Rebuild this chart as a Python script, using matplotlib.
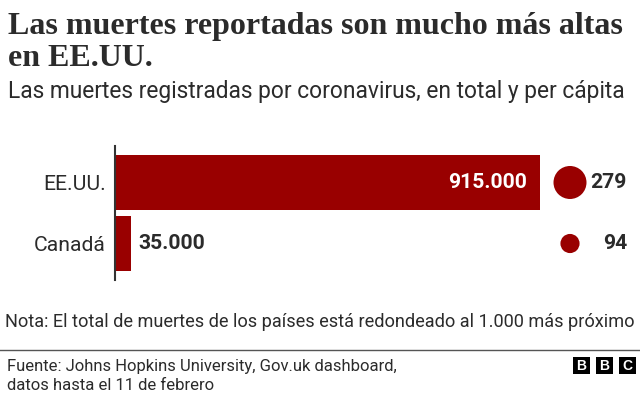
import matplotlib
matplotlib.use("Agg")
import matplotlib.pyplot as plt
from matplotlib.patches import Rectangle
from matplotlib.transforms import blended_transform_factory

categories = ["EE.UU.", "Canadá"]
totals = [915000, 35000]
total_labels = ["915.000", "35.000"]
per_capita = [279, 94]

title_lines = ["Las muertes reportadas son mucho más altas", "en EE.UU."]
subtitle = "Las muertes registradas por coronavirus, en total y per cápita"
note = "Nota: El total de muertes de los países está redondeado al 1.000 más próximo"
source_lines = ["Fuente: Johns Hopkins University, Gov.uk dashboard,", "datos hasta el 11 de febrero"]

W, H = 640, 401
RED = "#990000"
INK = "#2b2b2b"
SANS = "Roboto"

fig = plt.figure(figsize=(W / 100, H / 100), dpi=100, facecolor="white")

def px(x, y):
    return x / W, 1 - y / H

ax = fig.add_axes([115 / W, 1 - 280 / H, (640 - 115) / W, (280 - 146) / H])
ax.set_xlim(0, 915000 * 525 / 425)
ax.set_ylim(1.598, -0.598)
ax.barh(range(len(categories)), totals, height=0.90, color=RED, linewidth=0)
ax.set_yticks(range(len(categories)), categories, fontsize=15.2, color=INK, family=SANS)
ax.tick_params(axis="y", length=0, pad=6.5)
ax.set_xticks([])
for s in ["top", "right", "bottom"]:
    ax.spines[s].set_visible(False)
ax.spines["left"].set_color("#333333")
ax.spines["left"].set_linewidth(1.5)

ax.text(totals[0] - 28000, 0, total_labels[0], color="white", fontsize=15.2,
        fontweight="bold", family=SANS, ha="right", va="center")
ax.text(totals[1] + 15000, 1, total_labels[1], color=INK, fontsize=15.2,
        fontweight="bold", family=SANS, ha="left", va="center")

col = blended_transform_factory(ax.transAxes, ax.transData)
cx = (570 - 115) / 525
lx = (627 - 115) / 525
base = (33 * 0.72) ** 2 / 279
ax.scatter([cx] * 2, range(2), s=[v * base for v in per_capita], color=RED,
           linewidth=0, transform=col, clip_on=False, zorder=3)
for i, v in enumerate(per_capita):
    ax.text(lx, i, str(v), transform=col, color=INK, fontsize=15.2, fontweight="bold",
            family=SANS, ha="right", va="center")

fig.text(*px(8, 34), title_lines[0], fontsize=23, fontweight="bold", family="Liberation Serif",
         color=INK, ha="left", va="baseline")
fig.text(*px(8, 66), title_lines[1], fontsize=23, fontweight="bold", family="Liberation Serif",
         color=INK, ha="left", va="baseline")
fig.text(*px(8, 98), subtitle, fontsize=16.4, family=SANS, color=INK, ha="left", va="baseline")
fig.text(*px(5, 327), note, fontsize=13.1, family=SANS, color=INK, ha="left", va="baseline")
fig.add_artist(plt.Line2D([0, 1], [1 - 349.5 / H] * 2, color="#555555", lw=1, transform=fig.transFigure))
fig.text(*px(7, 371), source_lines[0], fontsize=11.95, family=SANS, color=INK, ha="left", va="baseline")
fig.text(*px(7, 390), source_lines[1], fontsize=11.95, family=SANS, color=INK, ha="left", va="baseline")

for x0, letter in zip([573, 596, 619], "BBC"):
    fig.add_artist(Rectangle((x0 / W, 1 - 374 / H), 17 / W, 17 / H, color="black",
                             transform=fig.transFigure, linewidth=0))
    fig.text((x0 + 8.5) / W, 1 - 365.5 / H, letter, color="white", fontsize=10,
             fontweight="bold", family="Liberation Sans", ha="center", va="center")

fig.savefig("out.png", dpi=100, facecolor="white")
